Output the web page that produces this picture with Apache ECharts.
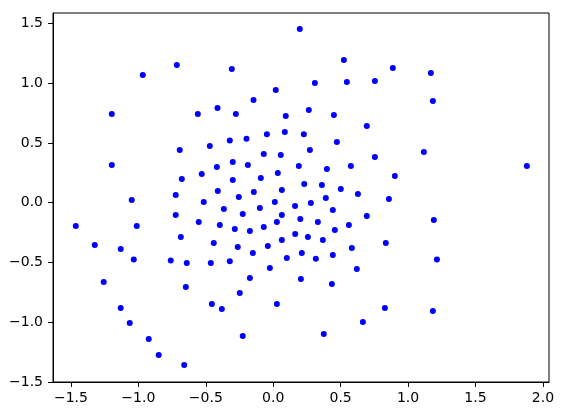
<!DOCTYPE html>
<html>
<head>
<meta charset="utf-8">
<script src="https://cdn.jsdelivr.net/npm/echarts@6/dist/echarts.min.js"></script>
<style>
  html, body { margin: 0; padding: 0; background: #fff; }
  #chart { width: 564px; height: 416px; }
</style>
</head>
<body>
<div id="chart"></div>
<script>
// points
const xs = [
  -1.197, -0.967, -0.715, -0.307, 0.197, 0.019, -0.146, -0.413, -0.559, -0.277,
  0.093, -0.047, 0.086, 0.227, -0.198, -0.322, 0.524, 0.887, 0.309, 0.546,
  0.754, 0.264, 0.450, 0.694, 0.472, 1.169, 1.184, -1.197, -0.693, -0.678,
  -1.049, -0.723, -0.723, -1.464, -1.012, -0.685, -1.323, -1.131, -1.034, -0.760,
  -0.470, -0.070, 0.056, -0.300, -0.188, -0.418, 0.190, -0.530, -0.300, -0.092,
  0.034, 0.230, -0.411, -0.255, -0.144, 0.064, -0.515, -0.366, -0.226, -0.099,
  0.012, 0.162, -0.552, -0.396, -0.285, -0.173, -0.070, 0.064, 0.027, 0.201,
  -0.441, -0.263, -0.151, -0.040, 0.064, 0.163, 0.212, 0.101, -0.322, 0.272,
  1.117, 0.754, 0.398, 0.576, 0.902, 0.361, 0.501, 0.628, 0.858, 0.390,
  0.279, 0.442, 0.331, 0.694, 0.561, 0.457, 0.257, 0.368, 0.835, 0.583,
  0.442, 0.316, 1.881, 1.191, 1.214, -1.257, -1.131, -1.064, -0.923, -0.849,
  -0.660, -0.648, -0.641, -0.463, -0.025, -0.173, 0.205, -0.248, -0.455, -0.381,
  0.027, -0.226, 0.620, 0.435, 0.828, 0.665, 0.375, 1.184
];
const ys = [
  0.742, 1.069, 1.152, 1.119, 1.454, 0.943, 0.859, 0.792, 0.742, 0.742,
  0.725, 0.572, 0.592, 0.572, 0.535, 0.520, 1.194, 1.127, 1.002, 1.010,
  1.018, 0.776, 0.734, 0.642, 0.508, 1.085, 0.851, 0.315, 0.441, 0.198,
  0.023, 0.064, -0.103, -0.195, -0.195, -0.287, -0.354, -0.388, -0.476, -0.484,
  0.474, 0.407, 0.399, 0.340, 0.315, 0.299, 0.307, 0.240, 0.190, 0.207,
  0.248, 0.156, 0.098, 0.048, 0.090, 0.106, 0.006, -0.053, -0.095, -0.045,
  0.006, -0.028, -0.162, -0.187, -0.220, -0.237, -0.203, -0.103, -0.162, -0.136,
  -0.337, -0.371, -0.421, -0.362, -0.312, -0.262, -0.421, -0.463, -0.490, 0.441,
  0.424, 0.382, 0.282, 0.307, 0.223, 0.148, 0.115, 0.073, 0.031, 0.039,
  -0.003, -0.061, -0.162, -0.111, -0.187, -0.228, -0.287, -0.312, -0.337, -0.379,
  -0.438, -0.468, 0.307, -0.145, -0.475, -0.664, -0.881, -1.007, -1.141, -1.274,
  -1.358, -0.705, -0.505, -0.505, -0.547, -0.630, -0.638, -0.756, -0.848, -0.890,
  -0.848, -1.115, -0.555, -0.680, -0.881, -0.998, -1.099, -0.906
];
const xTicks = [-1.5, -1.0, -0.5, 0.0, 0.5, 1.0, 1.5, 2.0];
const yTicks = [-1.5, -1.0, -0.5, 0.0, 0.5, 1.0, 1.5];
const xLim = [-1.633, 2.045];
const yLim = [-1.5, 1.587];

const fmt = v => (v < 0 ? '\u2212' : '') + Math.abs(v).toFixed(1);

const axisCommon = {
  type: 'value',
  scale: true,
  splitLine: { show: false },
  axisLine: { show: true, onZero: false, lineStyle: { color: '#000', width: 1 } },
  axisTick: { show: true, inside: false, length: 5, lineStyle: { color: '#000', width: 1 } },
  axisLabel: {
    color: '#000',
    fontFamily: 'DejaVu Sans',
    fontSize: 14,
    formatter: fmt
  }
};

const myChart = echarts.init(document.getElementById('chart'), null, { renderer: 'canvas' });
const option = {
  animation: false,
  backgroundColor: '#fff',
  grid: {
    show: true,
    left: 53,
    right: 15,
    top: 13,
    bottom: 34,
    borderColor: '#000',
    borderWidth: 1,
    containLabel: false
  },
  xAxis: Object.assign({}, axisCommon, {
    min: xLim[0],
    max: xLim[1],
    axisTick: Object.assign({}, axisCommon.axisTick, { customValues: xTicks }),
    axisLabel: Object.assign({}, axisCommon.axisLabel, { customValues: xTicks, margin: 9 })
  }),
  yAxis: Object.assign({}, axisCommon, {
    min: yLim[0],
    max: yLim[1],
    axisTick: Object.assign({}, axisCommon.axisTick, { customValues: yTicks }),
    axisLabel: Object.assign({}, axisCommon.axisLabel, { customValues: yTicks, margin: 10 })
  }),
  series: [
    {
      type: 'scatter',
      symbol: 'circle',
      symbolSize: 6,
      itemStyle: { color: '#0000ff', opacity: 1 },
      data: xs.map((x, i) => [x, ys[i]])
    }
  ]
};
myChart.setOption(option);
</script>
</body>
</html>
